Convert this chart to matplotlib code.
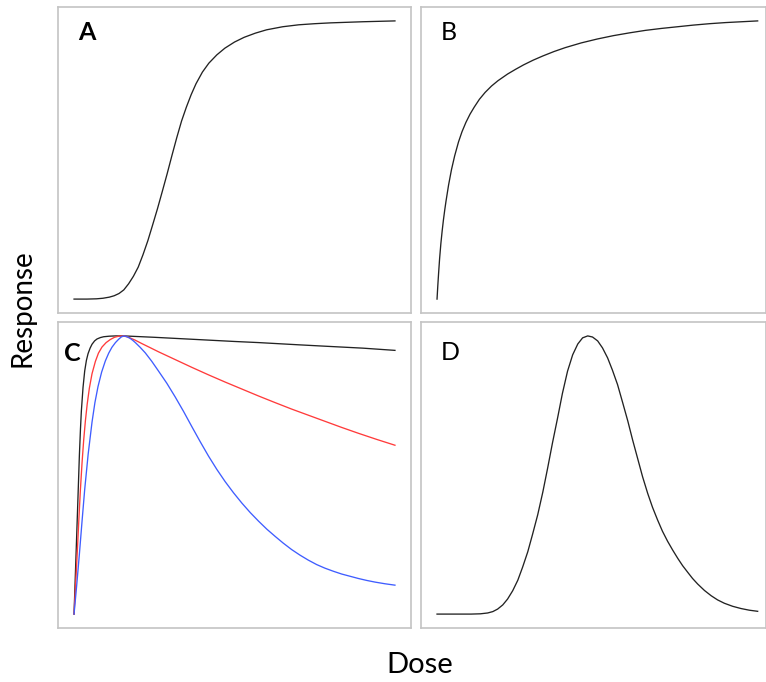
import matplotlib
matplotlib.use("Agg")
import matplotlib.pyplot as plt

plt.rcParams['font.family'] = ['Lato', 'DejaVu Sans']

# A: sigmoid dose-response
dose_a = [0, 4, 7, 9, 11, 12.5, 14, 15.5, 17, 18.5, 20, 21.5, 23, 24.5, 26, 27.5, 29, 30.5, 32,
          33.5, 35, 36.5, 38, 40, 42, 44.5, 47, 50, 53, 56.5, 60, 65, 70, 75, 80, 90, 100]
resp_a = [0, 0, 0.1, 0.3, 0.7, 1.2, 2.0, 3.3, 5.5, 8.2, 11.5, 16, 21, 26.7, 32.5, 38.7, 45, 51.6, 58,
          64, 69, 73.5, 77.4, 81.6, 84.8, 87.8, 90.2, 92.4, 94.1, 95.6, 96.8, 97.9, 98.6, 99.0, 99.3,
          99.7, 100]

# B: hyperbolic dose-response
dose_b = [0, 0.25, 0.5, 0.8, 1.2, 1.6, 2, 2.4, 2.8, 3.6, 4.5, 5.5, 6.7, 7.8, 9, 10.3, 11.6, 13.2,
          15, 17, 19, 22, 24.5, 27, 30, 33, 36.5, 40, 45, 50, 55, 60, 65, 70, 75, 80, 85, 90, 95, 100]
resp_b = [0, 5, 9.5, 14.5, 20, 24.5, 28.5, 32, 35.2, 41, 46.5, 51.5, 56.5, 60.2, 63.5, 66.5, 69, 71.8,
          74.3, 76.6, 78.5, 80.9, 82.6, 84.2, 85.9, 87.4, 89.0, 90.4, 92.1, 93.5, 94.7, 95.7, 96.6,
          97.3, 97.9, 98.5, 99.0, 99.4, 99.7, 100]

# C: rise then decline, three rates
dose_c_black = [0, 0.62, 1.14, 1.66, 2.0, 2.28, 2.8, 3.32, 3.85, 4.36, 5.0, 5.6, 6.4, 7.16, 8.2,
                9.23, 11, 13, 15.5, 25, 36.7, 50, 57.5, 70, 78.2, 90, 100]
resp_c_black = [0, 21.3, 39, 57, 66.5, 73, 81.5, 87.4, 91.2, 93.6, 95.6, 97.0, 98.2, 98.9, 99.4,
                99.7, 99.9, 100, 100, 99.5, 98.8, 98.0, 97.6, 96.8, 96.3, 95.6, 94.8]

dose_c_red = [0, 0.5, 1.04, 1.5, 1.97, 2.5, 3.0, 3.53, 4.1, 4.77, 5.6, 6.64, 7.6, 8.71, 10, 11.3,
              12.6, 13.9, 15.5, 17, 19, 21.2, 23.5, 26.3, 31.5, 36.7, 41.9, 47.1, 52.3, 57.5,
              62.7, 67.8, 73, 78.2, 83.4, 88.6, 94.3, 100]
resp_c_red = [0, 11, 23, 34, 44.5, 54.5, 62.5, 69.4, 75.5, 81.2, 86.4, 90.8, 93.8, 96.0, 97.6, 98.7,
              99.5, 99.9, 100, 99.5, 98.5, 97.2, 95.9, 94.3, 91.5, 88.7, 86.0, 83.4, 80.9, 78.4,
              76.0, 73.7, 71.5, 69.3, 67.1, 65.0, 62.8, 60.7]

dose_c_blue = [0, 0.8, 1.66, 2.5, 3.32, 4.4, 5.6, 6.5, 7.47, 8.6, 9.75, 10.8, 11.8, 12.9, 13.9,
               14.7, 15.5, 16.5, 17.5, 18.3, 19.1, 20.6, 22.2, 24.2, 26.3, 28.9, 31.5, 34.1, 36.7,
               39.3, 41.9, 44.5, 47.1, 49.7, 52.3, 54.9, 57.5, 60.1, 62.7, 65.2, 67.8, 70.4, 73.0,
               75.6, 78.2, 80.8, 83.4, 86, 88.6, 91.2, 93.8, 96.9, 100]
resp_c_blue = [0, 10, 21.5, 33.5, 44.8, 57.5, 69, 76, 81.8, 87, 91, 93.8, 95.9, 97.6, 98.8,
               99.6, 100, 99.7, 99.1, 98.4, 97.6, 95.9, 93.9, 90.9, 87.4, 83.0, 78.1, 72.9, 67.4,
               62.0, 56.8, 52.0, 47.6, 43.6, 39.9, 36.5, 33.4, 30.5, 27.9, 25.5, 23.2, 21.2, 19.4,
               17.8, 16.5, 15.4, 14.4, 13.6, 12.8, 12.1, 11.5, 10.9, 10.4]

# D: bell-shaped
dose_d = [0, 5, 10.6, 13.5, 15.8, 17.4, 18.9, 20.5, 22.0, 23.6, 25.2, 26.7, 28.3, 29.8, 31.4, 33.0,
          34.5, 36.0, 37.6, 39.1, 40.7, 42.3, 43.9, 45.4, 47.0, 48.5, 50.1, 51.6, 53.2, 54.7, 56.3,
          57.9, 59.5, 61.0, 62.6, 64.1, 65.7, 67.2, 68.8, 70.3, 71.9, 73.5, 75.1, 76.6, 78.2, 79.7,
          81.3, 83.4, 85.5, 87.5, 89.6, 92.2, 94.8, 97.4, 100]
resp_d = [0, 0, 0, 0.1, 0.4, 0.9, 1.8, 3.3, 5.4, 8.4, 12.2, 16.9, 22.4, 28.7, 35.7, 43.9,
          52.5, 61.5, 70.5, 79.3, 87.3, 93.2, 97.1, 99.3, 100, 99.6, 98.2, 95.7, 92.1, 87.7, 82.5,
          76.0, 69.4, 62.6, 55.8, 49.4, 43.4, 38.4, 33.8, 29.8, 26.2, 23.0, 20.0, 17.4, 15.0, 12.8,
          10.8, 8.5, 6.6, 5.1, 3.9, 2.8, 2.0, 1.4, 1.0]

W, H = 766, 682
fig = plt.figure(figsize=(W / 100, H / 100), dpi=100)


def panel(left, top, width, height):
    return fig.add_axes([left / W, 1 - (top + height) / H, width / W, height / H])


ax_a = panel(58, 7, 353, 306)
ax_b = panel(421, 7, 345, 306)
ax_c = panel(58, 322, 353, 306)
ax_d = panel(421, 322, 345, 306)

line_kw = dict(lw=0.95, solid_joinstyle='round')
ax_a.plot(dose_a, resp_a, color='#222222', **line_kw)
ax_b.plot(dose_b, resp_b, color='#222222', **line_kw)
ax_c.plot(dose_c_black, resp_c_black, color='#222222', **line_kw)
ax_c.plot(dose_c_red, resp_c_red, color='#ff3b3b', **line_kw)
ax_c.plot(dose_c_blue, resp_c_blue, color='#3f5dff', **line_kw)
ax_d.plot(dose_d, resp_d, color='#222222', **line_kw)

letters = [(ax_a, 'A', 0.057, 0.892, 'bold'), (ax_b, 'B', 0.058, 0.892, 'normal'),
           (ax_c, 'C', 0.016, 0.873, 'bold'), (ax_d, 'D', 0.058, 0.876, 'normal')]
for ax, letter, lx, ly, wt in letters:
    ax.text(lx, ly, letter, transform=ax.transAxes, fontsize=18, fontweight=wt,
            ha='left', va='baseline')
    ax.set_xticks([])
    ax.set_yticks([])
    for s in ax.spines.values():
        s.set_color('#c4c4c4')
        s.set_linewidth(1.2)

for ax in (ax_a, ax_c):
    ax.set_xlim(-5, 105)
for ax in (ax_b, ax_d):
    ax.set_xlim(-5, 102.6)
for ax in (ax_a, ax_b, ax_c, ax_d):
    ax.set_ylim(-5, 105)

fig.text(420 / W, 1 - 673 / H, 'Dose', fontsize=21, ha='center', va='baseline')
fig.text(23 / W, 1 - 308 / H, 'Response', fontsize=20, rotation=90, ha='center', va='center')

fig.savefig('out.png', dpi=100)
